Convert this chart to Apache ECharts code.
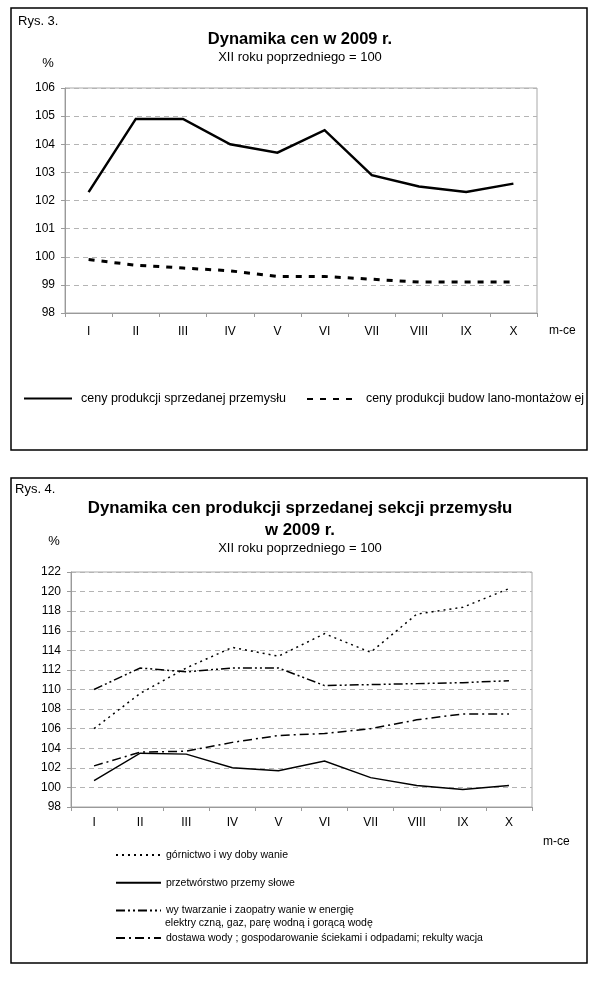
<!DOCTYPE html>
<html><head><meta charset="utf-8">
<script src="https://cdn.jsdelivr.net/npm/echarts@6/dist/echarts.min.js"></script>
<style>html,body{margin:0;padding:0;background:#fff}#c{width:600px;height:981px}</style>
</head><body><div id="c"></div>
<script>
// ---- data ----
const months = ['I','II','III','IV','V','VI','VII','VIII','IX','X'];
const fig3Title = 'Dynamika cen w 2009 r.';
const fig4Title = 'Dynamika cen produkcji sprzedanej sekcji przemysłu\nw 2009 r.';
const subTitle = 'XII roku poprzedniego = 100';
const fig3Y = {min: 98, max: 106, step: 1};
const fig4Y = {min: 98, max: 122, step: 2};
const nameIndustry = 'ceny produkcji sprzedanej przemysłu';
const nameConstruction = 'ceny produkcji budow lano-montażow ej';
const industry = [102.3, 104.9, 104.9, 104.0, 103.7, 104.5, 102.9, 102.5, 102.3, 102.6];
const construction = [99.9, 99.7, 99.6, 99.5, 99.3, 99.3, 99.2, 99.1, 99.1, 99.1];
const nameMining = 'górnictwo i wy doby wanie';
const nameManufacturing = 'przetwórstwo przemy słowe';
const nameEnergy = 'wy twarzanie i zaopatry wanie w energię';
const nameEnergy2 = 'elektry czną, gaz, parę wodną i gorącą wodę';
const nameWater = 'dostawa wody ; gospodarowanie ściekami i odpadami; rekulty wacja';
const mining = [106.0, 109.6, 112.2, 114.3, 113.4, 115.7, 113.8, 117.7, 118.4, 120.3];
const manufacturing = [100.7, 103.5, 103.4, 102.0, 101.7, 102.7, 101.0, 100.2, 99.8, 100.2];
const energy = [110.0, 112.2, 111.8, 112.2, 112.2, 110.4, 110.5, 110.6, 110.7, 110.9];
const water = [102.2, 103.6, 103.7, 104.6, 105.3, 105.5, 106.0, 106.9, 107.5, 107.5];

// ---- chart ----
const FONT = '"Liberation Sans", Arial, sans-serif';
const chart = echarts.init(document.getElementById('c'), null, {renderer: 'canvas'});
const axisGray = '#9a9a9a';
function xAxis(gridIndex, margin) {
  return {
    type: 'category', gridIndex, data: months, boundaryGap: true,
    axisLine: {lineStyle: {color: axisGray, width: 1}},
    axisTick: {show: true, interval: 0, length: 4, lineStyle: {color: axisGray}},
    axisLabel: {color: '#000', fontSize: 12, fontFamily: FONT, margin, interval: 0}
  };
}
function yAxis(gridIndex, y, nameGap) {
  return {
    type: 'value', gridIndex, min: y.min, max: y.max, interval: y.step,
    axisLine: {show: true, lineStyle: {color: axisGray, width: 1}},
    axisTick: {show: true, length: 4, lineStyle: {color: axisGray}},
    axisLabel: {color: '#000', fontSize: 12, fontFamily: FONT, margin: 10},
    splitLine: {show: true, lineStyle: {color: '#b4b4b4', type: [5, 4], width: 1}},
    name: '%', nameLocation: 'end', nameGap,
    nameTextStyle: {color: '#000', fontSize: 13, fontFamily: FONT, padding: [0, 34, 0, 0]}
  };
}
function lineSeries(name, data, xi, width, dash) {
  return {
    type: 'line', name, data, xAxisIndex: xi, yAxisIndex: xi,
    symbol: 'none', showSymbol: false, silent: true,
    lineStyle: {color: '#000', width, type: dash, cap: 'butt', join: 'miter'},
    itemStyle: {color: '#000'}
  };
}
const hiddenSymbol = {color: 'rgba(0,0,0,0)', borderWidth: 0, opacity: 0};
const option = {
  animation: false,
  backgroundColor: '#fff',
  textStyle: {fontFamily: FONT},
  title: [
    {text: fig3Title, subtext: subTitle, left: 'center', top: 25, itemGap: 2,
     textStyle: {fontSize: 16.5, fontWeight: 'bold', color: '#000', fontFamily: FONT, lineHeight: 18},
     subtextStyle: {fontSize: 13, color: '#000', fontFamily: FONT, lineHeight: 15}},
    {text: fig4Title, subtext: subTitle, left: 'center', top: 492, itemGap: 0,
     textStyle: {fontSize: 16.8, fontWeight: 'bold', color: '#000', fontFamily: FONT, lineHeight: 22},
     subtextStyle: {fontSize: 13, color: '#000', fontFamily: FONT, lineHeight: 15}}
  ],
  grid: [
    {left: 65, top: 88, width: 472, height: 225, show: true, borderColor: '#a8a8a8', borderWidth: 1, containLabel: false},
    {left: 71, top: 572, width: 461, height: 235, show: true, borderColor: '#a8a8a8', borderWidth: 1, containLabel: false}
  ],
  xAxis: [xAxis(0, 13), xAxis(1, 10)],
  yAxis: [yAxis(0, fig3Y, 18), yAxis(1, fig4Y, 24)],
  legend: [
    {data: [nameIndustry], left: 23, top: 392, padding: 0, itemWidth: 48, itemHeight: 14, selectedMode: false,
     itemStyle: hiddenSymbol,
     textStyle: {fontSize: 12.5, color: '#000', fontFamily: FONT, padding: [0, 0, 0, 4]}},
    {data: [nameConstruction], left: 306, top: 393, padding: 0, itemWidth: 48, itemHeight: 14, selectedMode: false,
     itemStyle: hiddenSymbol,
     textStyle: {fontSize: 12.3, color: '#000', fontFamily: FONT, padding: [0, 0, 0, 6]}},
    {data: [nameMining, nameManufacturing, nameEnergy, nameWater], orient: 'vertical', left: 115, top: 849, padding: 0,
     itemWidth: 45, itemHeight: 12, itemGap: 15.7, selectedMode: false,
     itemStyle: hiddenSymbol,
     textStyle: {fontSize: 10.5, color: '#000', fontFamily: FONT, lineHeight: 12}}
  ],
  graphic: [
    {type: 'rect', shape: {x: 11, y: 8, width: 576, height: 442}, style: {fill: 'none', stroke: '#000', lineWidth: 1.5}, silent: true},
    {type: 'rect', shape: {x: 11, y: 478, width: 576, height: 485}, style: {fill: 'none', stroke: '#000', lineWidth: 1.5}, silent: true},
    {type: 'text', left: 18, top: 15, style: {text: 'Rys. 3.', fontSize: 13, fill: '#000', fontFamily: FONT}},
    {type: 'text', left: 15, top: 483, style: {text: 'Rys. 4.', fontSize: 13, fill: '#000', fontFamily: FONT}},
    {type: 'text', left: 549, top: 325, style: {text: 'm-ce', fontSize: 12, fill: '#000', fontFamily: FONT}},
    {type: 'text', left: 543, top: 836, style: {text: 'm-ce', fontSize: 12, fill: '#000', fontFamily: FONT}},
    {type: 'text', left: 165, top: 918, style: {text: nameEnergy2, fontSize: 10.5, fill: '#000', fontFamily: FONT}}
  ],
  series: [
    lineSeries(nameIndustry, industry, 0, 2.5, 'solid'),
    lineSeries(nameConstruction, construction, 0, 3, [6, 7]),
    lineSeries(nameMining, mining, 1, 1.5, [2, 4]),
    lineSeries(nameManufacturing, manufacturing, 1, 1.5, 'solid'),
    lineSeries(nameEnergy, energy, 1, 1.5, [9, 3, 2, 3, 2, 3]),
    lineSeries(nameWater, water, 1, 1.5, [9, 4, 2, 4])
  ]
};
chart.setOption(option);
</script>
</body></html>
